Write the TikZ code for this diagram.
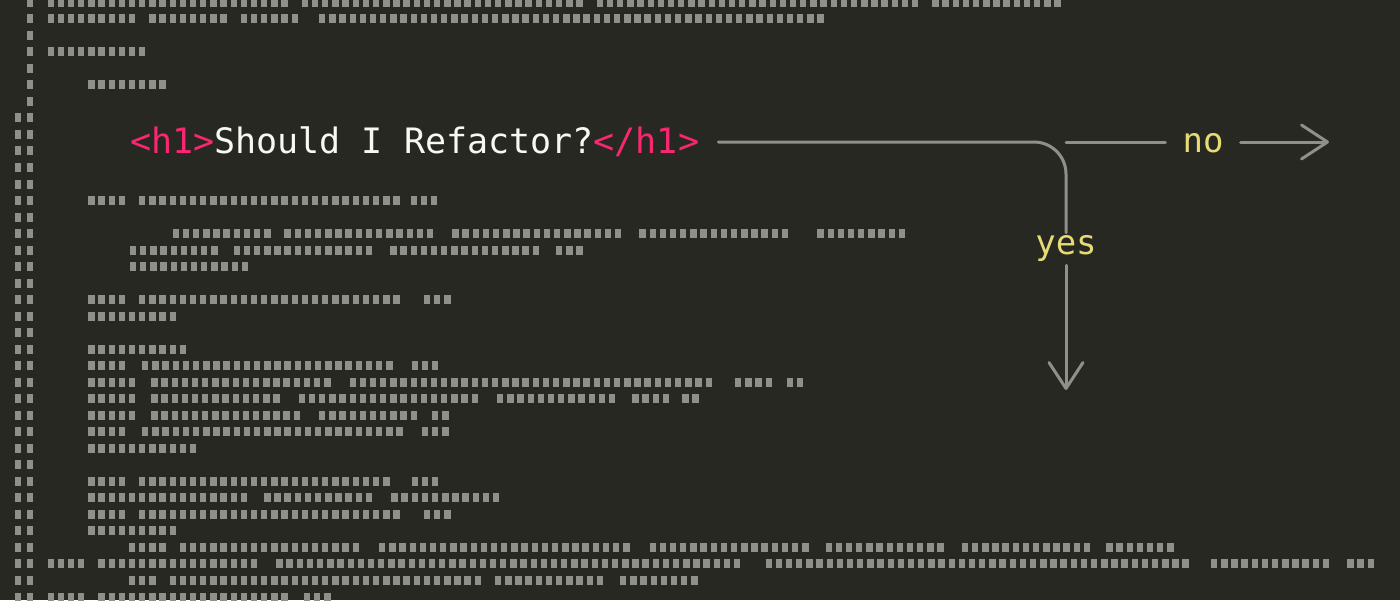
\documentclass[tikz,border=0pt]{standalone}
\usepackage{fontspec}
\usepackage{tikz}
\usetikzlibrary{arrows.meta}
\newfontfamily\codefont{DejaVu Sans Mono}
\definecolor{bgdark}{HTML}{272822}
\definecolor{minigrey}{HTML}{8F908A}
\definecolor{tagpink}{HTML}{F92672}
\definecolor{headwhite}{HTML}{F8F8F2}
\definecolor{labelyellow}{HTML}{E6DB74}

\begin{document}
\begin{tikzpicture}[x=1pt,y=-1pt,
    block/.style={fill=minigrey},
    flow/.style={draw=minigrey, line width=3pt, line cap=round},
    tip/.style={-{Straight Barb[length=26pt,width=34pt,round]}},
    answer/.style={font=\codefont\fontsize{34}{40}\selectfont, text=labelyellow, inner xsep=17pt, inner ysep=3pt}]
        \newcommand{\figBlockW}{6.4}
        % background
        \path[use as bounding box, fill=bgdark] (0,0) rectangle (1400,600);
        \clip (0,0) rectangle (1400,600);
        % gutter
        \foreach \rw in {0,...,36}
          \fill[block] (26.7,{2.3+16.52*\rw-4.5}) rectangle ++(5.8,9);
        \foreach \rw in {7,...,36}
          \fill[block] (15,{2.3+16.52*\rw-4.5}) rectangle ++(5.8,9);
        % minimap code lines: row/column/blocks
        \foreach \rw/\cl/\nb in {0/0/24, 0/25/28, 0/54/32, 0/87/13,
            1/0/9, 1/10/8, 1/19/6, 1/26.7/50,
            3/0/10, 5/4/8,
            12/4/4, 12/9/26, 12/35.7/3,
            14/12.3/10, 14/23.3/15, 14/39.8/17, 14/58.2/15, 14/75.7/9,
            15/8.1/9, 15/18.3/14, 15/33.7/15, 15/50/3,
            16/8.1/12,
            18/4/4, 18/9/26, 18/37/3,
            19/4/9,
            21/4/10,
            22/4/4, 22/9.3/25, 22/35.8/3,
            23/4/5, 23/10.2/18, 23/29.7/36, 23/67.6/4, 23/72.7/2,
            24/4/5, 24/10.2/13, 24/24.7/18, 24/44.2/12, 24/57.5/4, 24/62.4/2,
            25/4/5, 25/10.2/15, 25/26.7/10, 25/37.8/2,
            26/4/4, 26/9.3/26, 26/36.8/3,
            27/4/11,
            29/4/4, 29/9/25, 29/35.8/3,
            30/4/16, 30/21.3/11, 30/33.8/11,
            31/4/4, 31/9/26, 31/37/3,
            32/4/9,
            33/8/4, 33/13/18, 33/32.6/25, 33/59.2/16, 33/76.5/12, 33/89.9/13, 33/104.1/7,
            34/0/4, 34/5/16, 34/22.5/46, 34/70.6/42, 34/114.4/12, 34/127.8/3,
            35/8/3, 35/12/31, 35/44/11, 35/56.3/8,
            36/0/4, 36/5/19, 36/25.2/3}
          \foreach \k in {1,...,\nb}
            \fill[block] ({47.5+10.17*(\cl+\k-1)},{2.3+16.52*\rw-4.5}) rectangle ++(\figBlockW,9);
        % heading
        \node[anchor=west, inner sep=0pt, font=\codefont\fontsize{35}{42}\selectfont, text=headwhite] (title) at (130,142)
          {\textcolor{tagpink}{<h1>}Should I Refactor?\textcolor{tagpink}{</h1>}};
        % decision
        \coordinate (split) at (1066,142);
        \node[answer] (yes) at (1066,249) {yes};
        \node[answer] (no) at (1203,143) {no};
        \coordinate (yesend) at (1066,390);
        \coordinate (noend) at (1329,142);
        \draw[flow, rounded corners=32pt] ([xshift=19pt]title.east) -| (yes.north);
        \draw[flow, tip] (yes.south) -- (yesend);
        \draw[flow] (split) -- (split -| no.west);
        \draw[flow, tip] (split -| no.east) -- (noend);
\end{tikzpicture}
\end{document}
